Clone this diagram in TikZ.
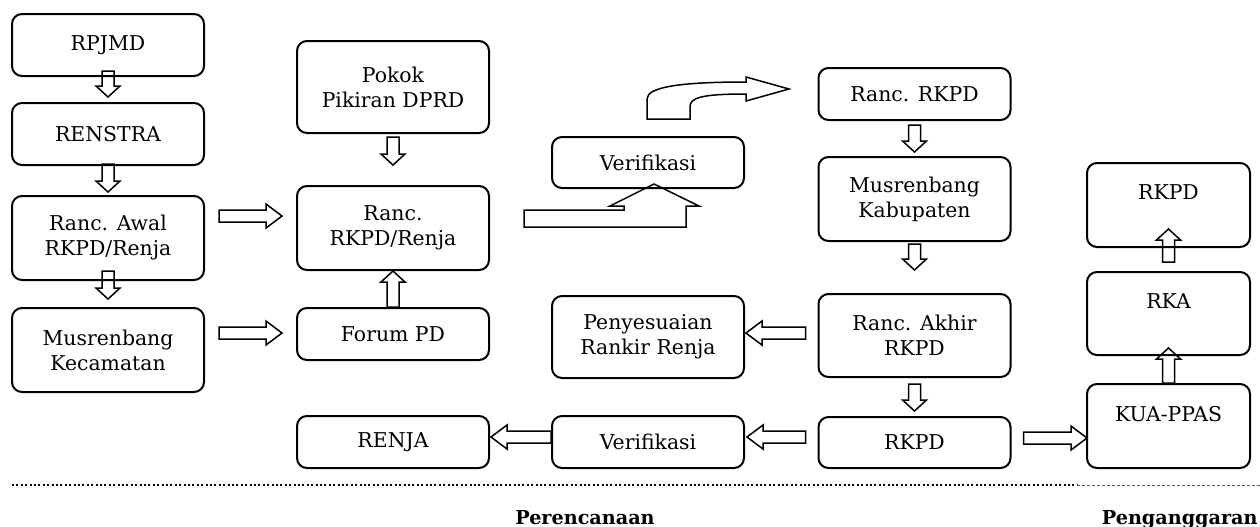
\documentclass[tikz,border=0pt]{standalone}
\usepackage{fontspec}
\setmainfont{DejaVu Serif}
\usepackage{tikz}
\usetikzlibrary{calc}
\definecolor{ink}{HTML}{000000}
\definecolor{sep}{HTML}{5A5A5A}
\tikzset{
  box/.style={draw=ink, line width=1pt, rounded corners=5pt, align=center, inner sep=0pt, minimum width=96pt},
  boxr/.style={box, minimum width=81.5pt},
  fatline/.style={draw=ink, line width=0.75pt, line join=miter},
  barrow/.style={fatline, to path={
    ($(\tikztostart)!3pt!90:(\tikztotarget)$)
    -- ($(\tikztotarget)!#1!(\tikztostart)!3pt!-90:(\tikztostart)$)
    -- ($(\tikztotarget)!#1!(\tikztostart)!6pt!-90:(\tikztostart)$)
    -- (\tikztotarget)
    -- ($(\tikztotarget)!#1!(\tikztostart)!6pt!90:(\tikztostart)$)
    -- ($(\tikztotarget)!#1!(\tikztostart)!3pt!90:(\tikztostart)$)
    -- ($(\tikztostart)!3pt!-90:(\tikztotarget)$)
    -- cycle}},
  barrow/.default=5.5pt,
  lbl/.style={font=\fontsize{9.6}{11}\selectfont\bfseries, inner sep=0pt}
}

\begin{document}
\begin{tikzpicture}[x=0.5pt, y=-0.5pt, font=\fontsize{10.2}{12.5}\selectfont]
  \useasboundingbox (0,0) rectangle (1260,526);

  % perencanaan, column 1
  \node[box, minimum height=31pt] (rpjmd) at (108,45) {RPJMD};
  \node[box, minimum height=31pt] (renstra) at (108,134) {RENSTRA};
  \node[box, minimum height=42pt] (rancawal) at (108,238) {Ranc. Awal\\RKPD/Renja};
  \node[box, minimum height=42pt] (muskec) at (108,350) {Musrenbang\\Kecamatan};

  % column 2
  \node[box, minimum height=46pt] (pokir) at (393,87) {Pokok\\Pikiran DPRD};
  \node[box, minimum height=42pt] (rancrenja) at (393,228) {Ranc.\\RKPD/Renja};
  \node[box, minimum height=26pt] (forum) at (393,334) {Forum PD};
  \node[box, minimum height=26pt] (renja) at (393,442) {RENJA};

  % column 3
  \node[box, minimum height=25.5pt] (verifa) at (648,162.5) {Verifikasi};
  \node[box, minimum height=41pt] (penyes) at (648,337) {Penyesuaian\\Rankir Renja};
  \node[box, minimum height=26pt] (verifb) at (648,442) {Verifikasi};

  % column 4
  \node[box, minimum height=26pt] (rancrkpd) at (914.5,94) {Ranc. RKPD};
  \node[box, minimum height=42pt] (muskab) at (914.5,199) {Musrenbang\\Kabupaten};
  \node[box, minimum height=41.5pt] (rancakhir) at (914.5,335.5) {Ranc. Akhir\\RKPD};
  \node[box, minimum height=25.5pt] (rkpd) at (914.5,442.5) {RKPD};

  % penganggaran
  \node[boxr, minimum height=42pt] (rkpdfin) at (1168.5,205) {RKPD\\~};
  \node[boxr, minimum height=41.5pt] (rka) at (1168.5,313.5) {RKA\\~};
  \node[boxr, minimum height=42pt] (kua) at (1168.5,426) {KUA-PPAS\\~};

  % vertical flow
  \draw[barrow] ($(rpjmd.south)+(0,-6)$) to ($(renstra.north)+(0,-5)$);
  \draw[barrow] ($(renstra.south)+(0,-2)$) to ($(rancawal.north)+(0,-3)$);
  \draw[barrow] ($(rancawal.south)+(0,-10)$) to ($(muskec.north)+(0,-8)$);
  \draw[barrow] ($(pokir.south)+(0,3)$) to ($(rancrenja.north)+(0,-20)$);
  \draw[barrow] (forum.north) to (rancrenja.south);
  \draw[barrow] ($(rancrkpd.south)+(0,4)$) to ($(muskab.north)+(0,-4)$);
  \draw[barrow] ($(muskab.south)+(0,2)$) to ($(rancakhir.north)+(0,-23)$);
  \draw[barrow] ($(rancakhir.south)+(0,6)$) to ($(rkpd.north)+(0,-5)$);
  \draw[barrow] (kua.north) to ($(rka.south)+(0,-8)$);
  \draw[barrow] ($(rka.north)+(0,-9)$) to ($(rkpdfin.south)+(0,-19)$);

  % horizontal flow
  \draw[barrow=8pt] ($(rancawal.east)+(14,-22)$) to ($(rancrenja.west)+(-14,-12)$);
  \draw[barrow=8pt] ($(muskec.east)+(14,-17)$) to ($(forum.west)+(-14,-1)$);
  \draw[barrow=8pt] ($(rancakhir.west)+(-12,-2.5)$) to ($(penyes.east)+(1,-4)$);
  \draw[barrow=8pt] ($(rkpd.west)+(-12,-5.5)$) to ($(verifb.east)+(2,-5)$);
  \draw[barrow=8pt] ($(verifb.west)+(0,-5)$) to ($(renja.east)+(1,-5)$);
  \draw[barrow=8pt] ($(rkpd.east)+(12,-4.5)$) to ($(kua.west)+(1,12)$);

  % bent arrow up to verifikasi
  \coordinate (vtip) at ($(verifa.south)+(6,-5)$);
  \draw[fatline] (vtip) -- ++(45,22) -- ++(-13,0) -- ++(0,21) -- ++(-162,0)
    -- ++(0,-17) -- ++(100,0) -- ++(0,-4) -- ++(-14,0) -- cycle;

  % curved arrow to ranc. rkpd
  \coordinate (cbase) at ($(verifa.north)+(-1,-17)$);
  \begin{scope}[shift={(cbase)}]
    \draw[fatline] (0,0) -- (0,-20) .. controls (0,-32) and (33,-37) .. (99,-37)
      -- (99,-42) -- (142,-30) -- (99,-18) -- (99,-25)
      .. controls (53,-25) and (43,-21) .. (43,-12) -- (43,0) -- cycle;
  \end{scope}

  % separator
  \draw[ink, line width=1.2pt, dash pattern=on 1pt off 1.2pt] (12,485) -- (1077,485);
  \draw[sep, line width=0.5pt, dash pattern=on 1.5pt off 1pt] (1077,485) -- (1260,485);

  \node[lbl, anchor=base] (plan) at (585,524) {Perencanaan};
  \node[lbl, anchor=base east] (budget) at (1258,524) {Penganggaran};
\end{tikzpicture}
\end{document}
